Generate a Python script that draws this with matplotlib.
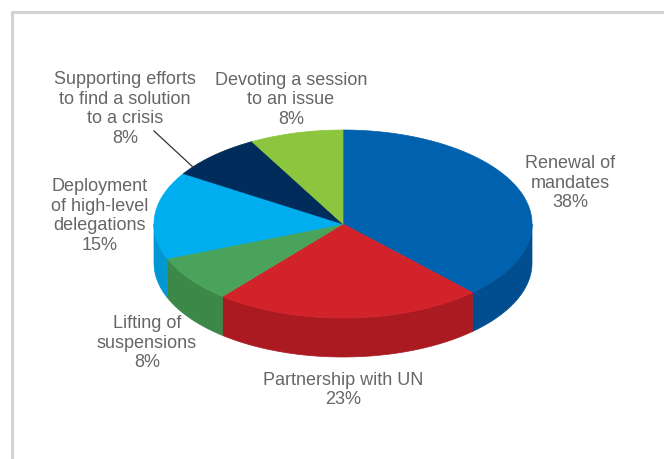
import numpy as np
import matplotlib.pyplot as plt
from matplotlib.patches import Polygon

# Share of actions by type (percent)
labels = ["Renewal of\nmandates", "Partnership with UN", "Lifting of\nsuspensions",
          "Deployment\nof high-level\ndelegations", "Supporting efforts\nto find a solution\nto a crisis",
          "Devoting a session\nto an issue"]
shares = [38, 23, 8, 15, 8, 8]
top_colors = ["#0061ae", "#d2232a", "#4aa35a", "#00adef", "#002c5c", "#8cc63f"]
side_colors = ["#004e8f", "#ab1a21", "#3b8849", "#0097d3", "#00214a", "#72a530"]

# label anchor points (pixel coords)
label_xy = [(570, 183), (343, 390), (147, 343), (100, 216), (125, 109), (291, 100)]

# pie geometry in pixels
cx, cy = 343, 224
rx, ry = 189, 94
depth = 39

fig = plt.figure(figsize=(6.64, 4.59), dpi=100)
ax = fig.add_axes([0, 0, 1, 1])
ax.set_xlim(0, 664)
ax.set_ylim(459, 0)
ax.axis("off")

# light frame around the chart
ax.plot([12, 12, 664], [459, 12, 12], color="#d3d3d3", lw=2.2, solid_capstyle="butt")


def ellipse_pts(t0, t1, n=200):
    t = np.radians(np.linspace(t0, t1, n))
    return cx + rx * np.cos(t), cy - ry * np.sin(t)


# wedge angles, clockwise from the top
ends = 90 - np.cumsum(shares) * 3.6
starts = np.concatenate([[90], ends[:-1]])

# sides first: only the front half of the rim (-180..0 deg) is visible
for a0, a1, col in zip(starts, ends, side_colors):
    for shift in (0, -360):
        lo, hi = max(a1, -180 + shift), min(a0, shift)
        if hi <= lo:
            continue
        x, y = ellipse_pts(hi, lo)
        xs = np.concatenate([x, x[::-1]])
        ys = np.concatenate([y, y[::-1] + depth])
        ax.add_patch(Polygon(np.column_stack([xs, ys]), closed=True, fc=col, ec=col, lw=0.5))

# top faces
for a0, a1, col in zip(starts, ends, top_colors):
    x, y = ellipse_pts(a0, a1)
    xs = np.concatenate([[cx], x])
    ys = np.concatenate([[cy], y])
    ax.add_patch(Polygon(np.column_stack([xs, ys]), closed=True, fc=col, ec=col, lw=0.5))

# labels
for lab, s, (lx, ly) in zip(labels, shares, label_xy):
    ax.text(lx, ly, f"{lab}\n{s}%", ha="center", va="center", fontsize=13,
            color="#666666", family="Liberation Sans", linespacing=1.2)

# leader line for the small dark slice
ax.plot([154, 194], [131, 168], color="#333333", lw=0.9)

fig.savefig("out.png", dpi=100)
